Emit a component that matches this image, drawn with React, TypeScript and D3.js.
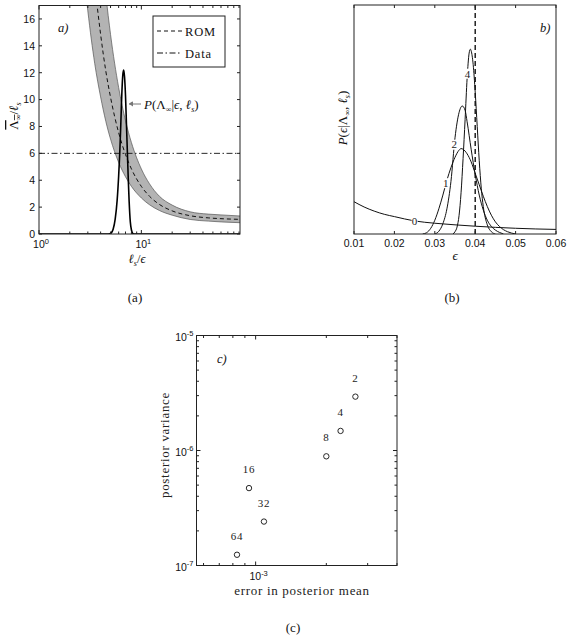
import React from "react";
import * as d3 from "d3";

// ---- panel (a): ROM band vs l_s/eps
const ratioGrid = [2.9, 3, 3.5, 4, 4.5, 5, 6, 7, 8, 10, 12, 15, 20, 30, 45, 60, 92];
const romMid = [26.1, 24.6, 18.7, 14.85, 12.1, 10.17, 7.54, 5.92, 4.84, 3.54, 2.81, 2.2, 1.72, 1.36, 1.2, 1.14, 1.09];
const romLow = [17.6, 16.6, 12.7, 10.2, 8.37, 7.06, 5.33, 4.26, 3.54, 2.68, 2.18, 1.75, 1.4, 1.08, 0.96, 0.9, 0.84];
const romHigh = [38, 36.6, 27.8, 21.9, 17.8, 14.85, 10.9, 8.43, 6.8, 4.84, 3.74, 2.81, 2.15, 1.65, 1.48, 1.42, 1.34];
const dataLevel = 6;
const spikeX = [1, 4.6, 4.9, 5.1, 5.3, 5.55, 5.8, 6.0, 6.15, 6.3, 6.45, 6.6, 6.72, 6.85, 7.0, 7.15, 7.3, 7.45, 7.6, 7.8, 8.0, 8.3, 8.6, 92];
const spikeY = [0, 0, 0.02, 0.1, 0.35, 1.1, 2.5, 4.3, 6.0, 8.2, 10.5, 11.9, 12.2, 11.7, 10.3, 8.2, 6.1, 4.1, 2.4, 0.9, 0.3, 0.03, 0, 0];
const yTicksA = [0, 2, 4, 6, 8, 10, 12, 14, 16];

// ---- panel (b): posterior of eps after n observations
const eps0 = [0.01, 0.0125, 0.015, 0.0175, 0.02, 0.025, 0.03, 0.035, 0.04, 0.045, 0.05, 0.055, 0.06];
const p0 = [0.141, 0.118, 0.1, 0.086, 0.076, 0.057, 0.047, 0.04, 0.034, 0.029, 0.025, 0.022, 0.02];
const eps1 = [0.027, 0.028, 0.029, 0.03, 0.031, 0.032, 0.033, 0.034, 0.035, 0.036, 0.0365, 0.037, 0.038, 0.039, 0.04, 0.041, 0.042, 0.043, 0.044, 0.045, 0.046, 0.047, 0.048, 0.049, 0.05];
const p1 = [0, 0.006, 0.025, 0.06, 0.11, 0.17, 0.235, 0.29, 0.335, 0.366, 0.373, 0.37, 0.35, 0.315, 0.265, 0.215, 0.165, 0.12, 0.082, 0.053, 0.033, 0.019, 0.01, 0.004, 0];
const eps2 = [0.03, 0.031, 0.032, 0.033, 0.034, 0.035, 0.036, 0.0368, 0.0375, 0.038, 0.039, 0.04, 0.041, 0.042, 0.043, 0.044, 0.045, 0.046, 0.047];
const p2 = [0, 0.012, 0.045, 0.11, 0.23, 0.42, 0.53, 0.559, 0.54, 0.49, 0.37, 0.26, 0.17, 0.105, 0.06, 0.033, 0.017, 0.007, 0];
const eps4 = [0.0345, 0.035, 0.0355, 0.036, 0.0365, 0.037, 0.0375, 0.038, 0.0385, 0.0388, 0.039, 0.0395, 0.04, 0.0405, 0.041, 0.0415, 0.042, 0.043, 0.044, 0.045];
const p4 = [0, 0.01, 0.03, 0.08, 0.18, 0.33, 0.5, 0.68, 0.79, 0.807, 0.8, 0.74, 0.62, 0.47, 0.32, 0.2, 0.12, 0.04, 0.01, 0];
const curveNames = ["0", "1", "2", "4"];
const curveLabelEps = [0.025, 0.0327, 0.0348, 0.0381];
const curveLabelP = [0.057, 0.222, 0.39, 0.7];
const trueEps = 0.04;
const xTicksB = [0.01, 0.02, 0.03, 0.04, 0.05, 0.06];

// ---- panel (c): error vs variance for number of samples
const sampleNames = ["2", "4", "8", "16", "32", "64"];
const errMean = [2.66e-3, 2.3e-3, 2.0e-3, 9.37e-4, 1.085e-3, 8.33e-4];
const postVar = [2.94e-6, 1.48e-6, 8.9e-7, 4.71e-7, 2.41e-7, 1.24e-7];

const serif = "'Liberation Serif','DejaVu Serif',serif";
const sans = "'Liberation Sans','DejaVu Sans',sans-serif";
const axisCol = "#222";

function Pow({ x, y, exp, anchor = "middle" }: any) {
  return (
    <text x={x} y={y} fontFamily={sans} fontSize={10.5} textAnchor={anchor} fill="#111">
      10<tspan dy={-4.5} fontSize={7.5}>{exp}</tspan>
    </text>
  );
}

function PanelA() {
  const x = d3.scaleLog().domain([1, 92]).range([39, 240]);
  const y = d3.scaleLinear().domain([0, 17]).range([234, 5.5]);
  const [x0, x1] = x.range();
  const [y0, y1] = y.range();
  const band = d3.area<number>()
    .x((d, i) => x(ratioGrid[i]))
    .y0((d, i) => y(romLow[i]))
    .y1((d, i) => y(romHigh[i]))
    .curve(d3.curveMonotoneX);
  const line = d3.line<number>().curve(d3.curveMonotoneX);
  const mid = d3.line<number>().x((d, i) => x(ratioGrid[i])).y((d) => y(d)).curve(d3.curveMonotoneX);
  const spike = d3.line<number>().x((d, i) => x(spikeX[i])).y((d) => y(d)).curve(d3.curveMonotoneX);
  const edge = d3.line<number>().x((d, i) => x(ratioGrid[i])).y((d) => y(d)).curve(d3.curveMonotoneX);
  return (
    <g>
      <defs>
        <clipPath id="clipA"><rect x={x0} y={y1} width={x1 - x0} height={y0 - y1} /></clipPath>
      </defs>
      <g clipPath="url(#clipA)">
        <path d={band(ratioGrid) || ""} fill="#b3b3b3" stroke="none" />
        <path d={edge(romLow) || ""} fill="none" stroke="#555" strokeWidth={0.7} />
        <path d={edge(romHigh) || ""} fill="none" stroke="#555" strokeWidth={0.7} />
        <path d={mid(romMid) || ""} fill="none" stroke="#111" strokeWidth={1} strokeDasharray="4,3" />
        <line x1={x0} x2={x1} y1={y(dataLevel)} y2={y(dataLevel)} stroke="#111" strokeWidth={0.9} strokeDasharray="6,2.5,1.5,2.5" />
        <path d={spike(spikeY) || ""} fill="none" stroke="#000" strokeWidth={1.6} />
      </g>
      {/* axes box and ticks */}
      <rect x={x0} y={y1} width={x1 - x0} height={y0 - y1} fill="none" stroke={axisCol} strokeWidth={1} />
      {yTicksA.map((t) => (
        <g key={t}>
          <line x1={x0} x2={x0 + 3} y1={y(t)} y2={y(t)} stroke={axisCol} />
          <line x1={x1} x2={x1 - 3} y1={y(t)} y2={y(t)} stroke={axisCol} />
          <text x={x0 - 4} y={y(t) + 3.8} fontFamily={sans} fontSize={10.5} textAnchor="end" fill="#111">{t}</text>
        </g>
      ))}
      {x.ticks().map((t, i) => {
        const major = Math.abs(Math.log10(t) % 1) < 1e-9;
        const len = major ? 4 : 2.5;
        return (
          <g key={i}>
            <line x1={x(t)} x2={x(t)} y1={y0} y2={y0 - len} stroke={axisCol} />
            <line x1={x(t)} x2={x(t)} y1={y1} y2={y1 + len} stroke={axisCol} />
          </g>
        );
      })}
      <Pow x={x(1) + 2} y={248} exp="0" />
      <Pow x={x(10) + 2} y={248} exp="1" />
      {/* legend */}
      <rect x={153} y={16} width={72} height={51} fill="#fff" stroke={axisCol} strokeWidth={1} />
      <line x1={157} x2={182} y1={31} y2={31} stroke="#111" strokeDasharray="4,3" />
      <line x1={157} x2={182} y1={53} y2={53} stroke="#111" strokeDasharray="6,2.5,1.5,2.5" />
      <text x={185} y={35.5} fontFamily={serif} fontSize={12.5} letterSpacing={0.8} fill="#111">ROM</text>
      <text x={185} y={57.5} fontFamily={serif} fontSize={12.5} letterSpacing={0.8} fill="#111">Data</text>
      <text x={58} y={32} fontFamily={serif} fontStyle="italic" fontSize={12.5} fill="#111">a)</text>
      {/* annotation */}
      <line x1={129} x2={141} y1={104} y2={104} stroke="#777" strokeWidth={1} />
      <path d={line([[129, 104], [133, 101.5], [133, 106.5]]) + "Z"} fill="#777" />
      <text x={144} y={108.5} fontFamily={serif} fontSize={13} fill="#111">
        <tspan fontStyle="italic">P</tspan>(Λ<tspan dy={3} fontSize={8}>∞</tspan><tspan dy={-3}>|</tspan><tspan fontStyle="italic">ϵ</tspan>, <tspan fontStyle="italic">ℓ</tspan><tspan dy={3} fontSize={8} fontStyle="italic">s</tspan><tspan dy={-3}>)</tspan>
      </text>
      {/* axis labels */}
      <text x={137} y={263} fontFamily={serif} fontSize={12.5} textAnchor="middle" fill="#111">
        <tspan fontStyle="italic">ℓ</tspan><tspan dy={3} fontSize={8} fontStyle="italic">s</tspan><tspan dy={-3}>/</tspan><tspan fontStyle="italic">ϵ</tspan>
      </text>
      <g transform="translate(18,116) rotate(-90)">
        <text x={0} y={0} fontFamily={serif} fontSize={13} textAnchor="middle" fill="#111">
          <tspan style={{ textDecoration: "overline" }}>Λ</tspan><tspan dy={3} fontSize={8} style={{ textDecoration: "overline" }}>∞</tspan><tspan dy={-3}>/</tspan><tspan fontStyle="italic">ℓ</tspan><tspan dy={3} fontSize={8} fontStyle="italic">s</tspan>
        </text>
      </g>
      <text x={135} y={302} fontFamily={serif} fontSize={13} textAnchor="middle" fill="#111">(a)</text>
    </g>
  );
}

function PanelB() {
  const x = d3.scaleLinear().domain([0.01, 0.06]).range([354, 556]);
  const y = d3.scaleLinear().domain([0, 1]).range([234, 5]);
  const [x0, x1] = x.range();
  const [y0, y1] = y.range();
  const mk = (xs: number[]) => d3.line<number>().x((d, i) => x(xs[i])).y((d) => y(d)).curve(d3.curveMonotoneX);
  const curves: [number[], number[]][] = [[eps0, p0], [eps1, p1], [eps2, p2], [eps4, p4]];
  return (
    <g>
      <defs>
        <clipPath id="clipB"><rect x={x0} y={y1} width={x1 - x0} height={y0 - y1} /></clipPath>
      </defs>
      <g clipPath="url(#clipB)">
        {curves.map(([xs, ys], i) => (
          <path key={i} d={mk(xs)(ys) || ""} fill="none" stroke="#111" strokeWidth={1} />
        ))}
        <line x1={x(trueEps)} x2={x(trueEps)} y1={y0} y2={y1} stroke="#111" strokeWidth={1.4} strokeDasharray="5,3" />
      </g>
      {curveNames.map((n, i) => (
        <g key={n}>
          <rect x={x(curveLabelEps[i]) - 3} y={y(curveLabelP[i]) - 5} width={6} height={10} fill="#fff" />
          <text x={x(curveLabelEps[i])} y={y(curveLabelP[i]) + 3.8} fontFamily={serif} fontSize={11} textAnchor="middle" fill="#222">{n}</text>
        </g>
      ))}
      <rect x={x0} y={y1} width={x1 - x0} height={y0 - y1} fill="none" stroke={axisCol} strokeWidth={1} />
      {xTicksB.map((t) => (
        <g key={t}>
          <line x1={x(t)} x2={x(t)} y1={y0} y2={y0 - 3} stroke={axisCol} />
          <line x1={x(t)} x2={x(t)} y1={y1} y2={y1 + 3} stroke={axisCol} />
          <text x={x(t)} y={247} fontFamily={sans} fontSize={10.5} textAnchor="middle" fill="#111">{d3.format(".2f")(t)}</text>
        </g>
      ))}
      <text x={540} y={32} fontFamily={serif} fontStyle="italic" fontSize={12.5} fill="#111">b)</text>
      <text x={455} y={260} fontFamily={serif} fontStyle="italic" fontSize={13} textAnchor="middle" fill="#111">ϵ</text>
      <g transform="translate(347,118) rotate(-90)">
        <text x={0} y={0} fontFamily={serif} fontSize={13} textAnchor="middle" fill="#111">
          <tspan fontStyle="italic">P</tspan>(<tspan fontStyle="italic">ϵ</tspan>|Λ<tspan dy={3} fontSize={8}>∞</tspan><tspan dy={-3}>, </tspan><tspan fontStyle="italic">ℓ</tspan><tspan dy={3} fontSize={8} fontStyle="italic">s</tspan><tspan dy={-3}>)</tspan>
        </text>
      </g>
      <text x={452} y={302} fontFamily={serif} fontSize={13} textAnchor="middle" fill="#111">(b)</text>
    </g>
  );
}

function PanelC() {
  const x = d3.scaleLog().domain([5.6e-4, 4e-3]).range([196.5, 397]);
  const y = d3.scaleLog().domain([1e-7, 1e-5]).range([565.5, 335.5]);
  const [x0, x1] = x.range();
  const [y0, y1] = y.range();
  const isMajor = (t: number) => Math.abs(Math.log10(t) - Math.round(Math.log10(t))) < 1e-9;
  return (
    <g>
      <rect x={x0} y={y1} width={x1 - x0} height={y0 - y1} fill="none" stroke={axisCol} strokeWidth={1} />
      {x.ticks().map((t, i) => {
        const len = isMajor(t) ? 4 : 2.5;
        return (
          <g key={i}>
            <line x1={x(t)} x2={x(t)} y1={y0} y2={y0 - len} stroke={axisCol} />
            <line x1={x(t)} x2={x(t)} y1={y1} y2={y1 + len} stroke={axisCol} />
          </g>
        );
      })}
      {y.ticks().map((t, i) => {
        const len = isMajor(t) ? 4 : 2.5;
        return (
          <g key={i}>
            <line x1={x0} x2={x0 + len} y1={y(t)} y2={y(t)} stroke={axisCol} />
            <line x1={x1} x2={x1 - len} y1={y(t)} y2={y(t)} stroke={axisCol} />
          </g>
        );
      })}
      {[1e-7, 1e-6, 1e-5].map((t) => (
        <Pow key={t} x={x0 - 3} y={y(t) + 5} exp={String(Math.round(Math.log10(t)))} anchor="end" />
      ))}
      <Pow x={x(1e-3) + 3} y={580} exp="-3" />
      {errMean.map((e, i) => (
        <g key={sampleNames[i]}>
          <circle cx={x(e)} cy={y(postVar[i])} r={2.7} fill="none" stroke="#111" strokeWidth={0.9} />
          <text x={x(e)} y={y(postVar[i]) - 15} fontFamily={serif} fontSize={11} letterSpacing={0.8} textAnchor="middle" fill="#222">{sampleNames[i]}</text>
        </g>
      ))}
      <text x={217} y={363} fontFamily={serif} fontStyle="italic" fontSize={12.5} fill="#111">c)</text>
      <text x={302} y={595} fontFamily={serif} fontSize={13} letterSpacing={0.7} textAnchor="middle" fill="#222">error in posterior mean</text>
      <g transform="translate(169,445) rotate(-90)">
        <text x={0} y={0} fontFamily={serif} fontSize={13} letterSpacing={0.7} textAnchor="middle" fill="#222">posterior variance</text>
      </g>
      <text x={293} y={632} fontFamily={serif} fontSize={13} textAnchor="middle" fill="#111">(c)</text>
    </g>
  );
}

export default function App() {
  return (
    <svg width={573} height={642} style={{ position: "absolute", left: 0, top: 0, background: "#fff" }}>
      <rect width={573} height={642} fill="#fff" />
      <PanelA />
      <PanelB />
      <PanelC />
    </svg>
  );
}
